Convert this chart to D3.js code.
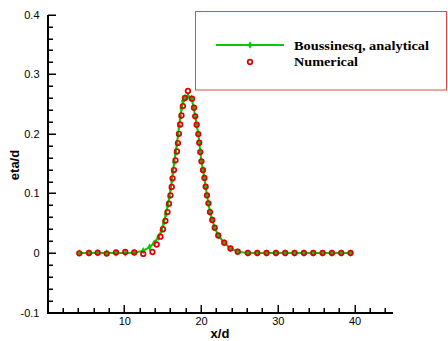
<!DOCTYPE html>
<html>
<head>
<meta charset="utf-8">
<script src="https://cdn.jsdelivr.net/npm/d3@7"></script>
<style>
  html, body { margin: 0; padding: 0; background: #fff; }
  svg { display: block; }
</style>
</head>
<body>
<svg id="chart" width="448" height="341"></svg>
<script>
// Numerical free-surface elevation samples (x/d, eta/d)
const numX = [4.14, 5.40, 6.54, 7.71, 8.92, 10.13, 11.30, 12.47, 13.67,
  14.22, 14.71, 15.04, 15.36, 15.63, 15.82, 16.02, 16.18, 16.29, 16.47, 16.67,
  16.86, 16.99, 17.12, 17.28, 17.45, 17.64, 17.90, 18.29,
  18.82, 19.08, 19.24, 19.43, 19.64, 19.77, 19.90, 20.05, 20.25, 20.44, 20.60,
  20.77, 20.96, 21.16, 21.46, 21.78, 22.24, 23.02, 23.83, 24.78,
  26.10, 27.32, 28.53, 29.75, 30.96, 32.18, 33.40, 34.61, 35.83, 37.04, 38.26, 39.47];
const numEta = [-0.0005, 0.0, 0.0005, -0.001, 0.001, 0.0017, 0.001, -0.0015, 0.0017,
  0.0143, 0.0274, 0.0399, 0.054, 0.0688, 0.0829, 0.0968, 0.1108, 0.1254, 0.1393, 0.1556,
  0.1704, 0.1846, 0.2001, 0.2157, 0.2308, 0.2467, 0.2602, 0.2719,
  0.259, 0.2439, 0.2294, 0.2153, 0.1997, 0.1851, 0.1695, 0.1539, 0.1393, 0.1259, 0.1113,
  0.0968, 0.0834, 0.0688, 0.0554, 0.0425, 0.0294, 0.0173, 0.0076, 0.0022,
  0, 0, 0, 0, 0, 0, 0, 0, 0, 0, 0, 0];

// Boussinesq solitary-wave profile (x/d, eta/d)
const anaX = [4.14, 5.40, 6.54, 7.71, 8.92, 10.13, 11.30, 12.47, 13.30, 13.90,
  14.45, 14.85, 15.15, 15.42, 15.66, 15.86, 16.04, 16.20, 16.34, 16.50, 16.68,
  16.86, 17.00, 17.14, 17.30, 17.47, 17.66, 17.92, 18.30,
  18.75, 19.05, 19.24, 19.43, 19.64, 19.77, 19.90, 20.05, 20.25, 20.44, 20.60,
  20.77, 20.96, 21.16, 21.46, 21.78, 22.24, 23.02, 23.83, 24.78,
  26.10, 27.32, 28.53, 29.75, 30.96, 32.18, 33.40, 34.61, 35.83, 37.04, 38.26, 39.47];
const anaEta = [0, 0, 0, 0, 0, 0, 0.0005, 0.004, 0.010, 0.017,
  0.027, 0.038, 0.051, 0.065, 0.080, 0.094, 0.108, 0.122, 0.136, 0.152, 0.168,
  0.183, 0.198, 0.213, 0.228, 0.243, 0.255, 0.261, 0.263,
  0.260, 0.2439, 0.2294, 0.2153, 0.1997, 0.1851, 0.1695, 0.1539, 0.1393, 0.1259, 0.1113,
  0.0968, 0.0834, 0.0688, 0.0554, 0.0425, 0.0294, 0.0173, 0.0076, 0.0022,
  0, 0, 0, 0, 0, 0, 0, 0, 0, 0, 0, 0];

const xMajorTicks = [10, 20, 30, 40];
const xMinorTicks = [2, 4, 6, 8, 12, 14, 16, 18, 22, 24, 26, 28, 32, 34, 36, 38, 42, 44];
const yMajorTicks = [-0.1, 0, 0.1, 0.2, 0.3, 0.4];
const yTickLabels = ["-0.1", "0", "0.1", "0.2", "0.3", "0.4"];
const yMinorTicks = [-0.08, -0.06, -0.04, -0.02, 0.02, 0.04, 0.06, 0.08, 0.12, 0.14, 0.16, 0.18,
  0.22, 0.24, 0.26, 0.28, 0.32, 0.34, 0.36, 0.38];
const legendLabels = ["Boussinesq, analytical", "Numerical"];

const svg = d3.select("#chart");
const x = d3.scaleLinear().domain([0, 45]).range([47.5, 393]);
const y = d3.scaleLinear().domain([-0.1, 0.4]).range([312.6, 14.7]);

const green = "#00cc00";
const red = "#e00000";
const sans = "Liberation Sans, Arial, sans-serif";

// Tick labels from d3 axes (their own tick lines and domain are dropped)
const xAxisG = svg.append("g").attr("transform", `translate(0,${y(-0.1)})`)
  .call(d3.axisBottom(x).tickValues(xMajorTicks).tickSize(0).tickPadding(5));
const yAxisG = svg.append("g").attr("transform", `translate(${x(0)},0)`)
  .call(d3.axisLeft(y).tickValues(yMajorTicks).tickSize(0).tickPadding(8)
    .tickFormat((d, i) => yTickLabels[i]));
[xAxisG, yAxisG].forEach(g => {
  g.selectAll(".domain").remove();
  g.selectAll(".tick line").remove();
  g.selectAll(".tick text").attr("font-family", sans).attr("font-size", 11).attr("fill", "#000");
});

// Axis titles
svg.append("text").attr("x", 220).attr("y", 338).attr("text-anchor", "middle")
  .attr("font-family", sans).attr("font-weight", "bold")
  .attr("font-size", 13).text("x/d");
svg.append("text").attr("transform", "translate(19,165) rotate(-90)").attr("text-anchor", "middle")
  .attr("font-family", sans).attr("font-weight", "bold")
  .attr("font-size", 13).text("eta/d");

// Analytical curve with diamond markers
const ana = anaX.map((v, i) => [v, anaEta[i]]);
svg.append("path").datum(ana)
  .attr("fill", "none").attr("stroke", green).attr("stroke-width", 2)
  .attr("d", d3.line().x(d => x(d[0])).y(d => y(d[1])));
const diamond = d3.symbol().type(d3.symbolDiamond).size(16);
svg.append("g").selectAll("path").data(ana).join("path")
  .attr("transform", d => `translate(${x(d[0])},${y(d[1])})`)
  .attr("d", diamond).attr("fill", green);

// Numerical samples as open circles
const num = numX.map((v, i) => [v, numEta[i]]);
svg.append("g").selectAll("circle").data(num).join("circle")
  .attr("cx", d => x(d[0])).attr("cy", d => y(d[1])).attr("r", 2.3)
  .attr("fill", "none").attr("stroke", red).attr("stroke-width", 1.7);

// Frame lines and inward-pointing tick marks, as filled rectangles
const x0 = Math.round(x(0)), yb = Math.round(y(-0.1));
const frameRects = [
  { x: x0 - 1, y: Math.round(y(0.4)), w: 2, h: yb - Math.round(y(0.4)) + 1 },
  { x: x0 - 1, y: yb - 1, w: Math.round(x(45)) - x0 + 1, h: 2 }
]
  .concat(xMinorTicks.map(v => ({ x: Math.round(x(v)) - 0.5, y: yb - 5, w: 1.5, h: 5 })))
  .concat(xMajorTicks.map(v => ({ x: Math.round(x(v)) - 0.5, y: yb - 8, w: 1.5, h: 8 })))
  .concat(yMinorTicks.map(v => ({ x: x0, y: Math.round(y(v)) - 0.5, w: 5, h: 1.5 })))
  .concat(yMajorTicks.map(v => ({ x: x0, y: Math.round(y(v)) - 0.5, w: 8, h: 1.5 })));
svg.append("g").selectAll("rect").data(frameRects).join("rect")
  .attr("x", d => d.x).attr("y", d => d.y).attr("width", d => d.w).attr("height", d => d.h)
  .attr("fill", "#000");

// Legend
const lg = svg.append("g");
lg.append("rect").attr("x", 195.5).attr("y", 11.5).attr("width", 251).attr("height", 78.5)
  .attr("fill", "#fff").attr("stroke", "#e04848").attr("stroke-width", 1);
lg.append("line").attr("x1", 216).attr("x2", 284).attr("y1", 45).attr("y2", 45)
  .attr("stroke", green).attr("stroke-width", 2);
lg.append("path").attr("transform", "translate(250,45)").attr("d", diamond).attr("fill", green);
lg.append("circle").attr("cx", 250).attr("cy", 62).attr("r", 2.3)
  .attr("fill", "none").attr("stroke", red).attr("stroke-width", 1.7);
const legendWidths = [135, 64];
lg.selectAll("text").data(legendLabels).join("text")
  .attr("x", 294).attr("y", (d, i) => 49.5 + i * 16.5)
  .attr("font-family", "Liberation Serif, Times New Roman, serif").attr("font-weight", "bold")
  .attr("font-size", 13.5).attr("fill", "#000")
  .attr("textLength", (d, i) => legendWidths[i]).attr("lengthAdjust", "spacingAndGlyphs")
  .text(d => d);
</script>
</body>
</html>
